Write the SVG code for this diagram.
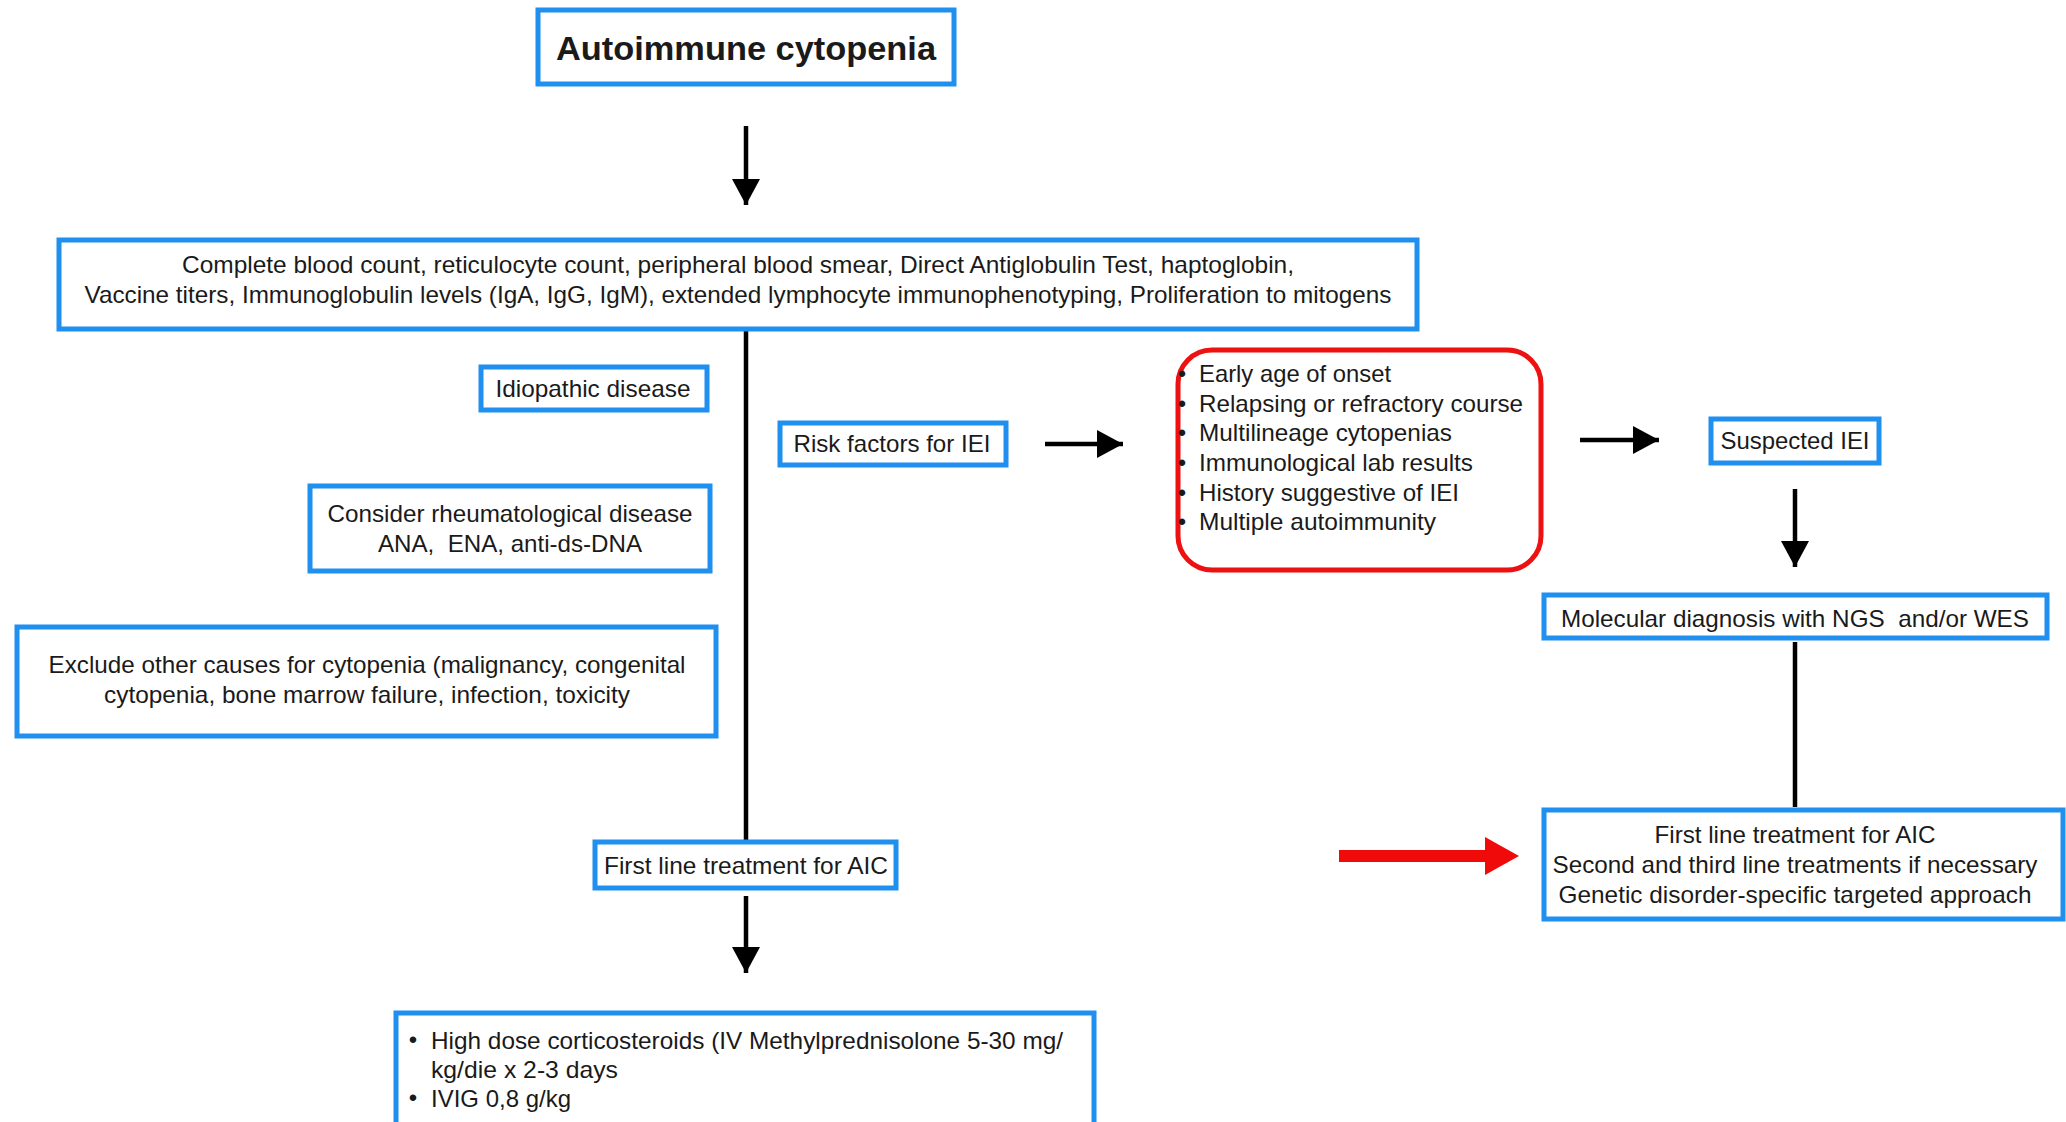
<svg xmlns="http://www.w3.org/2000/svg" width="2066" height="1122" viewBox="0 0 2066 1122">
  <style>
    .box { fill: #ffffff; stroke: #1f8ff0; stroke-width: 5; }
    .risk { fill: #ffffff; stroke: #ee1111; stroke-width: 5; }
    text { font-family: "Liberation Sans", Arial, Helvetica, sans-serif; font-size: 24px; fill: #1a1a1a; }
    .c { text-anchor: middle; }
    .title { font-size: 33px; font-weight: bold; }
    .flow { stroke: #000000; stroke-width: 4.5; fill: none; }
  </style>
  <defs>
    <marker id="head" markerUnits="userSpaceOnUse" markerWidth="28" markerHeight="28" refX="26" refY="14" orient="auto">
      <path d="M0,0 L26,14 L0,28 z" fill="#000000"/>
    </marker>
  </defs>
  <rect width="2066" height="1122" fill="#ffffff"/>

  <!-- connectors -->
  <g id="connectors">
    <line class="flow" x1="746" y1="126" x2="746" y2="205" marker-end="url(#head)"/>
    <line class="flow" x1="746" y1="329" x2="746" y2="841"/>
    <line class="flow" x1="746" y1="896" x2="746" y2="973" marker-end="url(#head)"/>
    <line class="flow" x1="1045" y1="444" x2="1123" y2="444" marker-end="url(#head)"/>
    <line class="flow" x1="1580" y1="440" x2="1659" y2="440" marker-end="url(#head)"/>
    <line class="flow" x1="1795" y1="489" x2="1795" y2="567" marker-end="url(#head)"/>
    <line class="flow" x1="1795" y1="642" x2="1795" y2="807"/>
    <!-- red highlight arrow -->
    <line x1="1339" y1="856" x2="1488" y2="856" stroke="#f00a0a" stroke-width="12"/>
    <polygon points="1485,837 1519,856 1485,875" fill="#f00a0a"/>
  </g>

  <g id="n-title">
    <rect class="box" x="538" y="10" width="416" height="74"/>
    <text class="c title" x="746" y="60" textLength="380" lengthAdjust="spacingAndGlyphs">Autoimmune cytopenia</text>
  </g>

  <g id="n-workup">
    <rect class="box" x="59" y="240" width="1358" height="89"/>
    <text class="c" x="738" y="273" textLength="1112" lengthAdjust="spacingAndGlyphs">Complete blood count, reticulocyte count, peripheral blood smear, Direct Antiglobulin Test, haptoglobin,</text>
    <text class="c" x="738" y="303" textLength="1307" lengthAdjust="spacingAndGlyphs">Vaccine titers, Immunoglobulin levels (IgA, IgG, IgM), extended lymphocyte immunophenotyping, Proliferation to mitogens</text>
  </g>

  <g id="n-idiopathic">
    <rect class="box" x="481" y="367" width="226" height="43"/>
    <text class="c" x="593" y="397" textLength="195" lengthAdjust="spacingAndGlyphs">Idiopathic disease</text>
  </g>

  <g id="n-rheum">
    <rect class="box" x="310" y="486" width="400" height="85"/>
    <text class="c" x="510" y="522" textLength="365" lengthAdjust="spacingAndGlyphs">Consider rheumatological disease</text>
    <text class="c" x="510" y="552" textLength="264" lengthAdjust="spacingAndGlyphs">ANA,&#160; ENA, anti-ds-DNA</text>
  </g>

  <g id="n-exclude">
    <rect class="box" x="17" y="627" width="699" height="109"/>
    <text class="c" x="367" y="673" textLength="637" lengthAdjust="spacingAndGlyphs">Exclude other causes for cytopenia (malignancy, congenital</text>
    <text class="c" x="367" y="703" textLength="526" lengthAdjust="spacingAndGlyphs">cytopenia, bone marrow failure, infection, toxicity</text>
  </g>

  <g id="n-risk">
    <rect class="box" x="780" y="423" width="226" height="42"/>
    <text class="c" x="892" y="452" textLength="197" lengthAdjust="spacingAndGlyphs">Risk factors for IEI</text>
  </g>

  <g id="n-riskfactors">
    <rect class="risk" x="1178" y="350" width="363" height="220" rx="34" ry="34"/>
    <g>
      <text class="c" x="1182" y="382">•</text>
      <text class="c" x="1182" y="412">•</text>
      <text class="c" x="1182" y="441">•</text>
      <text class="c" x="1182" y="471">•</text>
      <text class="c" x="1182" y="501">•</text>
      <text class="c" x="1182" y="530">•</text>
    </g>
    <text x="1199" y="382" textLength="192" lengthAdjust="spacingAndGlyphs">Early age of onset</text>
    <text x="1199" y="412" textLength="324" lengthAdjust="spacingAndGlyphs">Relapsing or refractory course</text>
    <text x="1199" y="441" textLength="253" lengthAdjust="spacingAndGlyphs">Multilineage cytopenias</text>
    <text x="1199" y="471" textLength="274" lengthAdjust="spacingAndGlyphs">Immunological lab results</text>
    <text x="1199" y="501" textLength="260" lengthAdjust="spacingAndGlyphs">History suggestive of IEI</text>
    <text x="1199" y="530" textLength="237" lengthAdjust="spacingAndGlyphs">Multiple autoimmunity</text>
  </g>

  <g id="n-suspected">
    <rect class="box" x="1711" y="419" width="168" height="44"/>
    <text class="c" x="1795" y="449" textLength="149" lengthAdjust="spacingAndGlyphs">Suspected IEI</text>
  </g>

  <g id="n-molecular">
    <rect class="box" x="1544" y="595" width="503" height="43"/>
    <text class="c" x="1795" y="627" textLength="468" lengthAdjust="spacingAndGlyphs">Molecular diagnosis with NGS&#160; and/or WES</text>
  </g>

  <g id="n-targeted">
    <rect class="box" x="1544" y="810" width="519" height="109"/>
    <text class="c" x="1795" y="843" textLength="281" lengthAdjust="spacingAndGlyphs">First line treatment for AIC</text>
    <text class="c" x="1795" y="873" textLength="485" lengthAdjust="spacingAndGlyphs">Second and third line treatments if necessary</text>
    <text class="c" x="1795" y="903" textLength="473" lengthAdjust="spacingAndGlyphs">Genetic disorder-specific targeted approach</text>
  </g>

  <g id="n-firstline">
    <rect class="box" x="595" y="842" width="301" height="46"/>
    <text class="c" x="746" y="874" textLength="284" lengthAdjust="spacingAndGlyphs">First line treatment for AIC</text>
  </g>

  <g id="n-therapy">
    <rect class="box" x="396" y="1013" width="698" height="120"/>
    <text class="c" x="413" y="1048">•</text>
    <text x="431" y="1049" textLength="632" lengthAdjust="spacingAndGlyphs">High dose corticosteroids (IV Methylprednisolone 5-30 mg/</text>
    <text x="431" y="1078" textLength="187" lengthAdjust="spacingAndGlyphs">kg/die x 2-3 days</text>
    <text class="c" x="413" y="1106">•</text>
    <text x="431" y="1107" textLength="140" lengthAdjust="spacingAndGlyphs">IVIG 0,8 g/kg</text>
  </g>
</svg>
